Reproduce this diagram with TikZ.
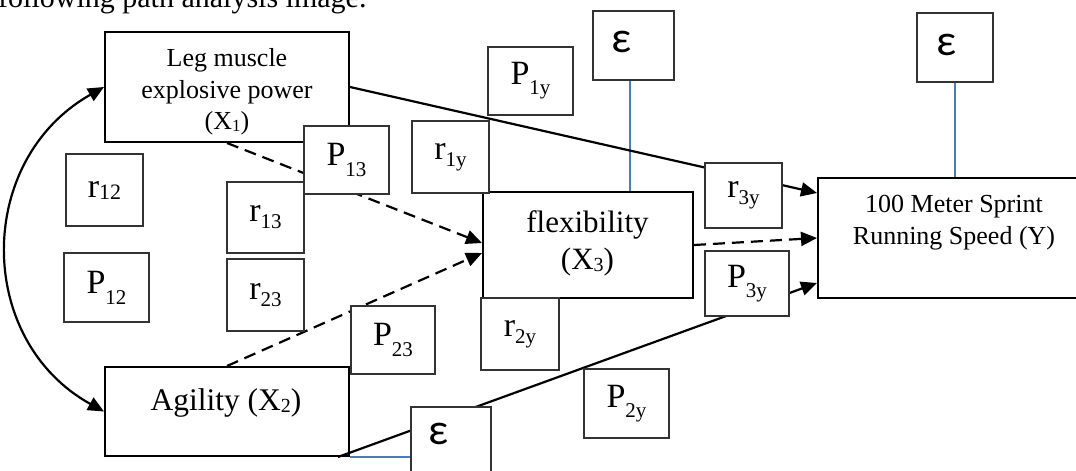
\documentclass[tikz,border=0pt]{standalone}
\usepackage{fontspec}
\setmainfont{Liberation Serif}
\newfontfamily\epsfont{Carlito}
\usetikzlibrary{arrows.meta}
\newcommand{\Lsub}[3]{{\fontsize{34}{36}\selectfont #1\raisebox{-#3pt}{\fontsize{21}{21}\selectfont #2}}}
\newcommand{\Wsub}[2]{\raisebox{-2pt}{\fontsize{#1}{#1}\selectfont #2}}
\definecolor{errblue}{RGB}{74,126,187}
\begin{document}
\begin{tikzpicture}[x=1pt,y=-1pt,
  main/.style={draw=black, line width=2pt, fill=white, inner sep=0pt},
  sbox/.style={draw=black!80, line width=1.4pt, fill=white, inner sep=0pt},
  conn/.style={line width=2.2pt, -{Triangle[length=16pt,width=14pt]}},
  dconn/.style={conn, dash pattern=on 12pt off 7pt},
  errl/.style={draw=errblue, line width=1.3pt},
  epst/.style={font=\epsfont\fontsize{44}{44}\selectfont, inner sep=0pt}]
\useasboundingbox (0,0) rectangle (1076,471);
\clip (0,0) rectangle (1076,471);
% partial text line at the top
\node[anchor=base west, inner sep=0pt, font=\fontsize{30}{36}\selectfont] (top) at (-2,8) {following path analysis image.};
% main boxes
\node[main, minimum width=244, minimum height=110] (X1) at (227,87) {};
\node[main, minimum width=244, minimum height=89] (X2) at (227,411.5) {};
\node[main, minimum width=210, minimum height=106] (X3) at (588,245) {};
\node[main, minimum width=267, minimum height=120] (Y) at (951.5,238) {};
\node[align=center, inner sep=0pt, font=\fontsize{26}{31.5}\selectfont] (X1t) at (227,91.8) {Leg muscle\\explosive power\\(X\Wsub{17}{1})};
\node[anchor=base, inner sep=0pt, font=\fontsize{31.5}{37}\selectfont] (X2t) at (226,410) {Agility (X\Wsub{20}{2})};
\node[align=center, inner sep=0pt, font=\fontsize{31}{37.5}\selectfont] (X3t) at (587.5,243.6) {flexibility\\(X\Wsub{20}{3})};
\node[align=center, inner sep=0pt, font=\fontsize{26}{32}\selectfont] (Yt) at (954,223) {100 Meter Sprint\\Running Speed (Y)};
% error boxes
\node[sbox, minimum width=81, minimum height=69] (E1) at (633.5,45.5) {};
\node[sbox, minimum width=76, minimum height=69] (E2) at (955,47.5) {};
% blue error lines
\draw[errl] ([xshift=-3.5pt]E1.south) -- ([xshift=-3.5pt]E1.south |- X3.north);
\draw[errl] (E2.south) -- (E2.south |- Y.north);
% connectors
\draw[{Triangle[length=16pt,width=14pt]}-{Triangle[length=16pt,width=14pt]}, line width=2.2pt]
  (X1.west) .. controls (-25,160) and (-25,340) .. (X2.west);
\draw[conn] (X1.east) -- ([yshift=45pt]Y.west);
\draw[dconn] (X1.south) -- ([yshift=2pt]X3.west);
\draw[dconn] (X2.north) -- ([yshift=-8pt]X3.west);
\draw[dconn] (X3.east) -- (Y.west);
\draw[conn] ([xshift=-12pt]X2.south east) -- ([yshift=-45pt]Y.west);
% coefficient boxes
\node[sbox, minimum width=77, minimum height=72] (r12) at (104.5,190) {{\fontsize{34}{36}\selectfont r\Wsub{22}{12}}};
\node[sbox, minimum width=85, minimum height=69] (P12) at (106.5,287.5) {\Lsub{P}{12}{11}};
\node[sbox, minimum width=77, minimum height=71] (r13) at (265.5,217.5) {\Lsub{r}{13}{7}};
\node[sbox, minimum width=77, minimum height=72] (r23) at (265.5,295) {\Lsub{r}{23}{7}};
\node[sbox, minimum width=85, minimum height=68] (P13) at (346.5,160) {\Lsub{P}{13}{11}};
\node[sbox, minimum width=84, minimum height=68] (P23) at (393,340) {\Lsub{P}{23}{11}};
\node[sbox, minimum width=77, minimum height=72] (r1y) at (450.5,157) {\Lsub{r}{1y}{7}};
\node[sbox, minimum width=85, minimum height=68] (P1y) at (530.5,81) {\Lsub{P}{1y}{10}};
\node[sbox, minimum width=77, minimum height=65] (r3y) at (743.5,195.5) {\Lsub{r}{3y}{7}};
\node[sbox, minimum width=84, minimum height=65] (P3y) at (747,283.5) {\Lsub{P}{3y}{10}};
\node[sbox, minimum width=78, minimum height=72] (r2y) at (520,334) {\Lsub{r}{2y}{7}};
\node[sbox, minimum width=85, minimum height=69] (P2y) at (626.5,403.5) {\Lsub{P}{2y}{10}};
\node[sbox, minimum width=80, minimum height=69] (E3) at (451,441.5) {};
\draw[errl] (X2.south east) -- (X2.south east -| E3.west);
% epsilon labels
\node[epst] (E1t) at (622,42) {ε};
\node[epst] (E2t) at (947,45) {ε};
\node[epst] (E3t) at (439,433.5) {ε};
\end{tikzpicture}
\end{document}
